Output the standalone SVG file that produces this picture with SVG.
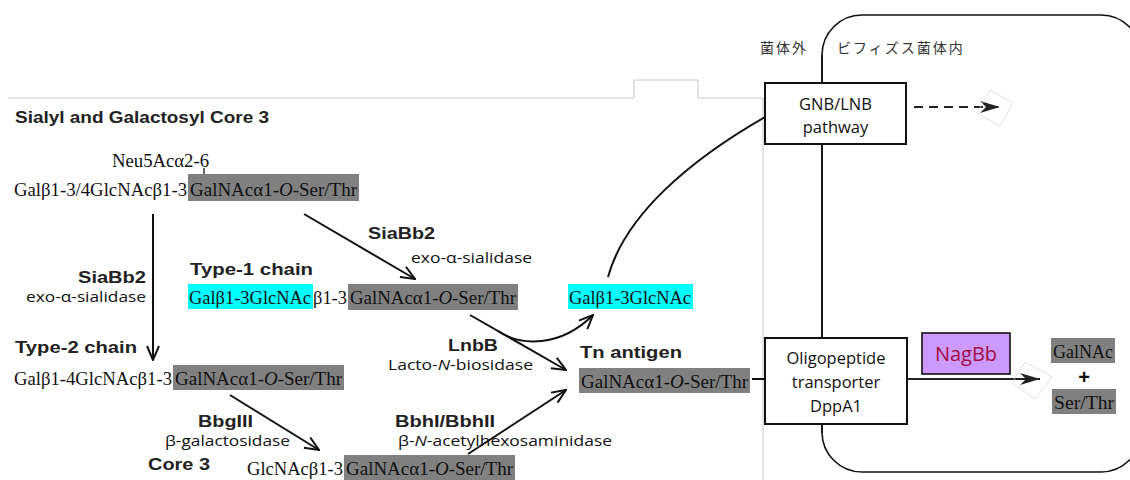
<svg xmlns="http://www.w3.org/2000/svg" width="1130" height="480" viewBox="0 0 1130 480">
<style>
.g{font-family:"Liberation Serif","Times New Roman",serif;font-size:18.5px;fill:#111}
.b{font-family:"Liberation Sans",Arial,sans-serif;font-weight:bold;font-size:17px;fill:#222}
.n{font-family:"Open Sans","Liberation Sans",sans-serif;font-size:15px;fill:#111}
.jp{font-family:"Noto Sans CJK JP",sans-serif;font-size:14px;fill:#333;letter-spacing:2px}
.gray{fill:#808080}
.cyan{fill:#00ffff}
.box{fill:#fff;stroke:#111;stroke-width:2}
.bt{font-family:"Open Sans","Liberation Sans",sans-serif;font-size:16.5px;fill:#111;text-anchor:middle}
.ar{fill:none;stroke:#111;stroke-width:2}
.faint{fill:none;stroke:#d8d8d8;stroke-width:0.8}
</style>
<defs>
<marker id="ah" viewBox="0 0 16 14" refX="15" refY="7" markerWidth="16" markerHeight="14" markerUnits="userSpaceOnUse" orient="auto"><path d="M1,1 L15,7 L1,13" fill="none" stroke="#111" stroke-width="2"/></marker>
<marker id="ahf" viewBox="0 0 20 12" refX="20" refY="6" markerWidth="20" markerHeight="12" markerUnits="userSpaceOnUse" orient="auto"><path d="M0,0 L20,6 L0,12 L6,6 z" fill="#222"/></marker>
</defs>

<g id="frame">
<polyline points="8,98 634,98 634,80 698,80 698,98 763,98 763,480" fill="none" stroke="#c8c8c8" stroke-width="1"/>
<rect x="822" y="15" width="319" height="457" rx="40" ry="40" fill="none" stroke="#111" stroke-width="1.6"/>
<text class="jp" x="760" y="53">菌体外</text>
<text class="jp" x="837" y="53">ビフィズス菌体内</text>
<text class="b" x="15" y="123" font-size="17.5" textLength="254" lengthAdjust="spacingAndGlyphs">Sialyl and Galactosyl Core 3</text>
</g>

<g id="connectors">
<line class="ar" x1="153" y1="214" x2="153" y2="360" marker-end="url(#ah)"/>
<line class="ar" x1="304" y1="214" x2="415" y2="279" marker-end="url(#ah)"/>
<line class="ar" x1="230" y1="395" x2="319" y2="450" marker-end="url(#ah)"/>
<line class="ar" x1="468" y1="454" x2="566" y2="390" marker-end="url(#ah)"/>
<line class="ar" x1="470" y1="315" x2="566" y2="370" marker-end="url(#ah)"/>
<path class="ar" d="M498,331 C520,346 560,348 593,315" marker-end="url(#ah)"/>
<path class="ar" d="M608,277 C625,215 690,160 765,117"/>
<line class="ar" x1="752" y1="379" x2="765" y2="379"/>
<line x1="822" y1="55" x2="822" y2="433" stroke="#111" stroke-width="1.6"/>
<line x1="914" y1="107" x2="1000" y2="107" stroke="#222" stroke-width="2" stroke-dasharray="9 6" marker-end="url(#ahf)"/>
<polygon class="faint" points="977,113 990,90 1013,103 1000,126"/>
<line x1="907" y1="379" x2="1040" y2="379" stroke="#222" stroke-width="2" marker-end="url(#ahf)"/>
<polygon class="faint" points="1012,383 1025,362 1052,377 1035,399"/>
</g>

<g id="sialyl-core3">
<text class="g" x="112" y="167" font-size="17" textLength="97" lengthAdjust="spacingAndGlyphs">Neu5Acα2-6</text>
<line x1="204" y1="168" x2="204" y2="178" stroke="#111" stroke-width="1.3"/>
<rect class="gray" x="188" y="174" width="171" height="27"/>
<text class="g" x="14" y="196" textLength="173" lengthAdjust="spacingAndGlyphs">Galβ1-3/4GlcNAcβ1-3</text>
<text class="g" x="190" y="196" textLength="167" lengthAdjust="spacingAndGlyphs">GalNAcα1-<tspan font-style="italic">O</tspan>-Ser/Thr</text>
</g>

<g id="siabb2-left">
<text class="b" x="78" y="283" font-size="18" textLength="68" lengthAdjust="spacingAndGlyphs">SiaBb2</text>
<text class="n" x="26" y="302" textLength="120" lengthAdjust="spacingAndGlyphs">exo-α-sialidase</text>
</g>

<g id="siabb2-diag">
<text class="b" x="368" y="239" font-size="18" textLength="67" lengthAdjust="spacingAndGlyphs">SiaBb2</text>
<text class="n" x="411" y="263" textLength="121" lengthAdjust="spacingAndGlyphs">exo-α-sialidase</text>
</g>

<g id="type1">
<text class="b" x="190" y="275" font-size="18" textLength="123" lengthAdjust="spacingAndGlyphs">Type-1 chain</text>
<rect class="cyan" x="188" y="284" width="125" height="25"/>
<rect class="gray" x="348" y="284" width="170" height="26"/>
<text class="g" x="189" y="304" textLength="122" lengthAdjust="spacingAndGlyphs">Galβ1-3GlcNAc</text>
<text class="g" x="313" y="304" textLength="34" lengthAdjust="spacingAndGlyphs">β1-3</text>
<text class="g" x="350" y="304" textLength="166" lengthAdjust="spacingAndGlyphs">GalNAcα1-<tspan font-style="italic">O</tspan>-Ser/Thr</text>
</g>

<g id="lnb-product">
<rect class="cyan" x="568" y="284" width="125" height="25"/>
<text class="g" x="569" y="304" textLength="122" lengthAdjust="spacingAndGlyphs">Galβ1-3GlcNAc</text>
</g>

<g id="type2">
<text class="b" x="15" y="353" font-size="18" textLength="122" lengthAdjust="spacingAndGlyphs">Type-2 chain</text>
<rect class="gray" x="173" y="365" width="171" height="25"/>
<text class="g" x="14" y="385" textLength="158" lengthAdjust="spacingAndGlyphs">Galβ1-4GlcNAcβ1-3</text>
<text class="g" x="175" y="385" textLength="167" lengthAdjust="spacingAndGlyphs">GalNAcα1-<tspan font-style="italic">O</tspan>-Ser/Thr</text>
</g>

<g id="lnbb">
<text class="b" x="448" y="351" font-size="18" textLength="50" lengthAdjust="spacingAndGlyphs">LnbB</text>
<text class="n" x="388" y="370" textLength="145" lengthAdjust="spacingAndGlyphs">Lacto-<tspan font-style="italic">N</tspan>-biosidase</text>
</g>

<g id="bbgiii">
<text class="b" x="198" y="427" font-size="18" textLength="55" lengthAdjust="spacingAndGlyphs">BbgIII</text>
<text class="n" x="165" y="446" textLength="125" lengthAdjust="spacingAndGlyphs">β-galactosidase</text>
</g>

<g id="core3">
<text class="b" x="148" y="470" font-size="18" textLength="62" lengthAdjust="spacingAndGlyphs">Core 3</text>
<rect class="gray" x="344" y="455" width="171" height="25"/>
<text class="g" x="247" y="475" textLength="96" lengthAdjust="spacingAndGlyphs">GlcNAcβ1-3</text>
<text class="g" x="346" y="475" textLength="167" lengthAdjust="spacingAndGlyphs">GalNAcα1-<tspan font-style="italic">O</tspan>-Ser/Thr</text>
</g>

<g id="bbhi">
<text class="b" x="395" y="427" font-size="18" textLength="100" lengthAdjust="spacingAndGlyphs">BbhI/BbhII</text>
<text class="n" x="398" y="446" textLength="214" lengthAdjust="spacingAndGlyphs">β-<tspan font-style="italic">N</tspan>-acetylhexosaminidase</text>
</g>

<g id="tn-antigen">
<text class="b" x="580" y="358" font-size="18" textLength="102" lengthAdjust="spacingAndGlyphs">Tn antigen</text>
<rect class="gray" x="579" y="368" width="171" height="25"/>
<text class="g" x="581" y="388" textLength="167" lengthAdjust="spacingAndGlyphs">GalNAcα1-<tspan font-style="italic">O</tspan>-Ser/Thr</text>
</g>

<g id="gnb-lnb">
<rect class="box" x="765" y="83" width="141" height="61"/>
<text class="bt" x="835.5" y="110">GNB/LNB</text>
<text class="bt" x="835.5" y="133">pathway</text>
</g>

<g id="dppa1">
<rect class="box" x="765" y="338" width="142" height="86"/>
<text class="bt" x="836" y="364">Oligopeptide</text>
<text class="bt" x="836" y="388">transporter</text>
<text class="bt" x="836" y="412">DppA1</text>
</g>

<g id="nagbb">
<rect x="922" y="333" width="88" height="41" fill="#cc99ff" stroke="#111" stroke-width="1.6"/>
<text x="966" y="361" text-anchor="middle" font-family="Open Sans, Liberation Sans, sans-serif" font-size="20" fill="#a0103c">NagBb</text>
</g>

<g id="products">
<rect class="gray" x="1051" y="338" width="64" height="25"/>
<text class="g" x="1053" y="358" textLength="60" lengthAdjust="spacingAndGlyphs">GalNAc</text>
<text x="1084" y="384" text-anchor="middle" font-family="Liberation Sans, sans-serif" font-weight="bold" font-size="20" fill="#111">+</text>
<rect class="gray" x="1052" y="389" width="64" height="25"/>
<text class="g" x="1054" y="409" textLength="60" lengthAdjust="spacingAndGlyphs">Ser/Thr</text>
</g>
</svg>
